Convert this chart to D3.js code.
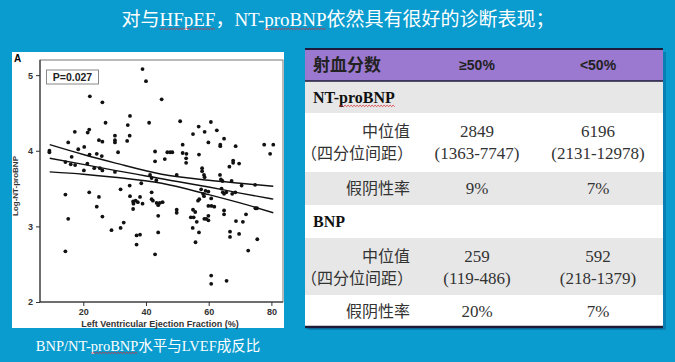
<!DOCTYPE html>
<html>
<head>
<meta charset="utf-8">
<script src="https://cdn.jsdelivr.net/npm/d3@7"></script>
<style>
  body { margin: 0; background: #0a9ccf; }
  svg { display: block; }
</style>
</head>
<body>
<div id="chart"></div>
<script>
// scatter data: LVEF (%) and log NT-proBNP
var lvef = [38.9,40.0,22.1,26.1,45.0,34.9,27.1,17.3,21.4,21.9,34.2,34.8,41.0,50.9,60.7,56.8,58.7,62.6,55.0,30.1,
  30.1,30.1,15.2,25.0,26.1,34.0,64.9,59.9,63.7,63.7,68.6,51.7,77.7,80.6,79.6,20.3,18.4,9.2,9.2,16.3,
  22.0,24.3,25.9,31.1,42.9,42.9,46.8,47.7,48.4,51.7,52.9,52.8,52.8,56.9,46.0,67.8,67.8,69.7,66.6,57.9,
  57.9,14.3,16.0,17.4,21.3,23.5,25.3,20.2,26.1,30.1,41.3,41.8,49.8,58.5,63.6,63.9,64.4,67.3,70.5,74.8,
  14.3,21.9,25.0,31.9,34.9,35.9,36.7,38.1,41.8,41.8,43.4,45.3,57.6,59.0,59.9,58.5,57.0,64.5,64.9,67.5,
  68.5,15.2,14.3,24.3,26.1,29.0,31.9,32.9,35.9,36.0,38.9,43.9,43.9,43.9,37.0,38.1,37.0,42.9,49.8,49.8,
  54.3,55.2,55.0,55.7,56.2,54.9,56.9,55.8,58.6,59.2,59.9,59.9,59.9,60.9,61.8,64.9,64.9,68.7,70.9,71.9,
  66.8,66.8,69.7,75.5,72.6,60.8,60.8,65.7,74.9,75.4,34.8,38.5,43.3,58.7,64.1,65.6,56.6,60.8,58.2,44.4,
  42.2,37.4];
var logNT = [5.08,4.92,4.72,4.64,4.68,4.46,4.37,4.25,4.24,4.28,4.34,4.20,4.37,4.39,4.38,4.32,4.25,4.27,4.22,4.20,
  4.14,4.11,4.11,4.14,4.12,4.13,4.16,4.11,4.08,4.06,4.06,4.08,4.08,4.08,3.96,4.05,4.02,4.00,3.98,3.92,
  3.95,3.96,3.93,3.98,3.99,3.86,3.98,3.98,3.98,3.97,3.96,3.90,3.84,3.95,3.89,3.87,3.84,3.83,3.79,3.77,
  3.73,3.85,3.82,3.81,3.83,3.77,3.77,3.74,3.74,3.72,3.68,3.64,3.68,3.68,3.68,3.62,3.60,3.60,3.54,3.55,
  3.42,3.45,3.39,3.49,3.40,3.33,3.34,3.39,3.45,3.36,3.31,3.32,3.49,3.47,3.46,3.40,3.36,3.45,3.43,3.43,
  3.45,3.10,2.67,3.26,3.13,2.95,2.98,3.05,3.23,3.30,3.30,3.28,3.14,2.92,2.88,2.89,2.76,2.63,3.22,3.18,
  3.12,3.12,3.22,3.19,3.06,2.98,2.92,2.79,3.10,3.10,3.08,3.14,3.27,3.27,3.26,3.21,3.16,3.07,3.06,3.16,
  2.93,2.86,2.90,2.83,2.68,2.35,2.24,2.28,3.24,3.24,3.54,3.57,3.61,3.65,3.50,3.45,3.34,3.37,3.43,3.31,
  3.34,3.32];

// fit line and 95% band, read at a few x positions
var fitX = [9.3, 20, 30, 45, 60, 70, 80.6];
var fitMid = [3.90, 3.82, 3.74, 3.63, 3.52, 3.44, 3.36];
var fitUp = [4.08, 3.95, 3.84, 3.69, 3.61, 3.57, 3.53];
var fitLo = [3.72, 3.69, 3.65, 3.57, 3.42, 3.31, 3.18];

var xTicks = [20, 40, 60, 80];
var yTicks = [2, 3, 4, 5];

// table
var colHeads = ["射血分数", "≥50%", "<50%"];
var markers = ["NT-proBNP", "BNP"];
var medians = [["2849", "6196"], ["259", "592"]];
var iqrs = [["(1363-7747)", "(2131-12978)"], ["(119-486)", "(218-1379)"]];
var falseNeg = [["9%", "7%"], ["20%", "7%"]];

var W = 675, H = 362;
var serif = "'Liberation Serif', 'Noto Sans CJK SC', serif";
var sans = "'Liberation Sans', Arial, sans-serif";
var cjk = "'Noto Sans CJK SC', sans-serif";

var svg = d3.select("#chart").append("svg")
  .attr("width", W)
  .attr("height", H);

svg.append("rect").attr("width", W).attr("height", H).attr("fill", "#0a9ccf");

var wavyList = [];

// title
var title = svg.append("text")
  .attr("x", 338).attr("y", 26)
  .attr("text-anchor", "middle")
  .attr("fill", "#fff")
  .style("font-family", serif)
  .style("font-size", "19px");
title.append("tspan").text("对与");
wavyList.push(title.append("tspan").text("HFpEF"));
title.append("tspan").text("，NT-");
wavyList.push(title.append("tspan").text("proBNP"));
title.append("tspan").text("依然具有很好的诊断表现；");

// ---- left panel ----
svg.append("rect")
  .attr("x", 12).attr("y", 52)
  .attr("width", 272).attr("height", 276)
  .attr("fill", "#fff");

svg.append("text")
  .attr("x", 14).attr("y", 62)
  .style("font-family", sans)
  .style("font-weight", "bold")
  .style("font-size", "10px")
  .text("A");

var x = d3.scaleLinear().domain([6.2, 83.7]).range([40, 283]);
var y = d3.scaleLinear().domain([2, 5.2]).range([302, 60]);

svg.append("rect")
  .attr("x", 40).attr("y", 60)
  .attr("width", 243).attr("height", 242)
  .attr("fill", "none")
  .attr("stroke", "#777")
  .attr("stroke-width", 1);
svg.append("line")
  .attr("x1", 40).attr("x2", 40).attr("y1", 60).attr("y2", 302)
  .attr("stroke", "#222");
svg.append("line")
  .attr("x1", 40).attr("x2", 283).attr("y1", 302).attr("y2", 302)
  .attr("stroke", "#222");

var xAxis = svg.append("g")
  .attr("transform", "translate(0,302)")
  .call(d3.axisBottom(x).tickValues(xTicks).tickFormat(d3.format("d")).tickSize(4).tickPadding(3));
var yAxis = svg.append("g")
  .attr("transform", "translate(40,0)")
  .call(d3.axisLeft(y).tickValues(yTicks).tickFormat(d3.format("d")).tickSize(4).tickPadding(3));
[xAxis, yAxis].forEach(function(g) {
  g.select(".domain").remove();
  g.selectAll("line").attr("stroke", "#333");
  g.selectAll("text")
    .attr("fill", "#333")
    .style("font-family", sans)
    .style("font-weight", "bold")
    .style("font-size", "9px");
});

svg.append("text")
  .attr("x", 160).attr("y", 327)
  .attr("text-anchor", "middle")
  .attr("fill", "#333")
  .style("font-family", sans)
  .style("font-weight", "bold")
  .style("font-size", "9px")
  .text("Left Ventricular Ejection Fraction (%)");

svg.append("text")
  .attr("transform", "translate(18,186)rotate(-90)")
  .attr("text-anchor", "middle")
  .attr("fill", "#333")
  .style("font-family", sans)
  .style("font-weight", "bold")
  .style("font-size", "8px")
  .text("Log-NT-proBNP");

// P value box
svg.append("rect")
  .attr("x", 46.5).attr("y", 70)
  .attr("width", 52).attr("height", 14)
  .attr("fill", "#fff")
  .attr("stroke", "#888");
svg.append("text")
  .attr("x", 72.5).attr("y", 81)
  .attr("text-anchor", "middle")
  .attr("fill", "#222")
  .style("font-family", sans)
  .style("font-weight", "bold")
  .style("font-size", "10.5px")
  .text("P=0.027");

// dots
svg.selectAll(".dot")
  .data(lvef.map(function(v, i) { return [v, logNT[i]]; }))
  .enter()
  .append("circle")
    .attr("class", "dot")
    .attr("cx", function(d) { return x(d[0]); })
    .attr("cy", function(d) { return y(d[1]); })
    .attr("r", 1.9)
    .attr("fill", "#111");

var line = d3.line()
  .x(function(d) { return x(d[0]); })
  .y(function(d) { return y(d[1]); })
  .curve(d3.curveMonotoneX);
[fitUp, fitMid, fitLo].forEach(function(arr) {
  svg.append("path")
    .datum(fitX.map(function(v, i) { return [v, arr[i]]; }))
    .attr("d", line)
    .attr("fill", "none")
    .attr("stroke", "#111")
    .attr("stroke-width", 1.4);
});

// caption
var cap = svg.append("text")
  .attr("x", 148).attr("y", 351)
  .attr("text-anchor", "middle")
  .attr("fill", "#fff")
  .style("font-family", serif)
  .style("font-size", "14.5px");
cap.append("tspan").text("BNP/NT-");
wavyList.push(cap.append("tspan").text("proBNP"));
cap.append("tspan").text("水平与LVEF成反比");

// ---- table ----
var tx0 = 305, tx1 = 663;
var rowY = [49, 81, 113, 172, 205, 238, 295, 327];
var colX = [410, 477, 598];

svg.append("rect")
  .attr("x", tx1).attr("y", 52)
  .attr("width", 3).attr("height", 278)
  .attr("fill", "#0880b4");
svg.append("rect")
  .attr("x", tx0 + 3).attr("y", 327)
  .attr("width", tx1 - tx0).attr("height", 3)
  .attr("fill", "#0880b4");

var rowFill = ["#9b79d0", "#e7e7e7", "#ffffff", "#e7e7e7", "#ffffff", "#e7e7e7", "#ffffff"];
svg.selectAll(".trow")
  .data(rowFill)
  .enter()
  .append("rect")
    .attr("class", "trow")
    .attr("x", tx0)
    .attr("y", function(d, i) { return rowY[i]; })
    .attr("width", tx1 - tx0)
    .attr("height", function(d, i) { return rowY[i + 1] - rowY[i]; })
    .attr("fill", function(d) { return d; });

[[49, 2], [81, 1.5], [327, 2.5]].forEach(function(b) {
  svg.append("line")
    .attr("x1", tx0).attr("x2", tx1)
    .attr("y1", b[0]).attr("y2", b[0])
    .attr("stroke", "#1c1c3a")
    .attr("stroke-width", b[1]);
});

// header
svg.append("text")
  .attr("x", 313).attr("y", 71)
  .attr("fill", "#222")
  .style("font-family", cjk)
  .style("font-weight", "bold")
  .style("font-size", "17px")
  .text(colHeads[0]);
colHeads.slice(1).forEach(function(t, i) {
  svg.append("text")
    .attr("x", colX[i + 1]).attr("y", 70)
    .attr("text-anchor", "middle")
    .attr("fill", "#222")
    .style("font-family", sans)
    .style("font-weight", "bold")
    .style("font-size", "14px")
    .text(t);
});

function cell(xp, yp, t, anchor, font, size) {
  return svg.append("text")
    .attr("x", xp).attr("y", yp)
    .attr("text-anchor", anchor)
    .attr("fill", "#333")
    .style("font-family", font)
    .style("font-size", size)
    .text(t);
}

markers.forEach(function(m, k) {
  var base = k === 0 ? 0 : 3;
  var top = rowY[base + 1];
  var lab = svg.append("text")
    .attr("x", 313).attr("y", top + 22)
    .attr("fill", "#111")
    .style("font-family", serif)
    .style("font-weight", "bold")
    .style("font-size", "16px");
  if (m === "NT-proBNP") {
    lab.append("tspan").text("NT-");
    wavyList.push(lab.append("tspan").text("proBNP"));
  } else {
    lab.text(m);
  }

  var medTop = rowY[base + 2];
  cell(colX[0], medTop + 24, "中位值", "end", cjk, "16px");
  cell(colX[0] + 3, medTop + 46, "（四分位间距）", "end", cjk, "16px");
  medians[k].forEach(function(v, j) {
    cell(colX[j + 1], medTop + 24, v, "middle", serif, "17px");
    cell(colX[j + 1], medTop + 46, iqrs[k][j], "middle", serif, "17px");
  });

  var fnTop = rowY[base + 3];
  cell(colX[0], fnTop + 22, "假阴性率", "end", cjk, "16px");
  falseNeg[k].forEach(function(v, j) {
    cell(colX[j + 1], fnTop + 22, v, "middle", serif, "17px");
  });
});

// red wavy spell-check underlines
wavyList.forEach(function(ts) {
  var b = ts.node().getBBox();
  var yb = b.y + b.height - 1.5;
  var pts = [];
  for (var px = b.x, k = 0; px <= b.x + b.width; px += 1.5, k++) {
    pts.push([px, yb + (k % 2 ? 1.1 : -0.3)]);
  }
  svg.append("path")
    .attr("d", d3.line()(pts))
    .attr("fill", "none")
    .attr("stroke", "#d8262e")
    .attr("stroke-width", 0.8);
});
</script>
</body>
</html>
